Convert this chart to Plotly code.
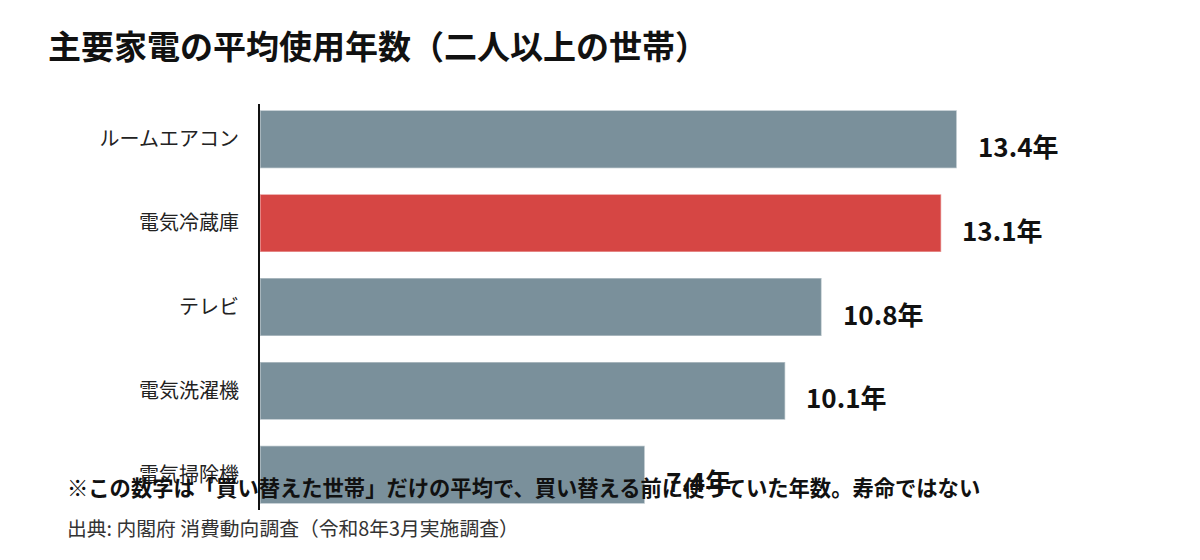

# 主要家電の平均使用年数 — horizontal bar chart
import plotly.graph_objects as go

OUT = "out.html"
FONT = "Noto Sans CJK JP"

# --- data ---
categories = ["ルームエアコン", "電気冷蔵庫", "テレビ", "電気洗濯機", "電気掃除機"]
years = [13.4, 13.1, 10.8, 10.1, 7.4]
value_suffix = "年"
highlight = "電気冷蔵庫"

title_text = "主要家電の平均使用年数（二人以上の世帯）"
note_text = "※この数字は「買い替えた世帯」だけの平均で、買い替える前に使っていた年数。寿命ではない"
source_text = "出典: 内閣府 消費動向調査（令和8年3月実施調査）"

# colours
BAR_GREY = "#7a909b"
BAR_RED = "#d64644"
bar_colors = [BAR_RED if c == highlight else BAR_GREY for c in categories]

fig = go.Figure(
    go.Bar(
        x=years,
        y=categories,
        orientation="h",
        marker=dict(color=bar_colors, line=dict(color="rgba(255,255,255,0.45)", width=1.5)),
        width=0.69,
        hoverinfo="skip",
    )
)

# value labels to the right of each bar (sit a little below bar centre)
for cat, val in zip(categories, years):
    fig.add_annotation(
        x=val, y=cat, xref="x", yref="y",
        text=f"<b>{val:.1f}{value_suffix}</b>",
        showarrow=False, xanchor="left", yanchor="middle",
        xshift=19, yshift=-6,
        font=dict(family=FONT, size=26, color="#111111"),
    )

# footnote + source (below / overlapping the last bar, as in the original)
fig.add_annotation(
    x=-0.2206, y=0.059, xref="paper", yref="paper",
    text=f"<b>{note_text}</b>", showarrow=False,
    xanchor="left", yanchor="middle",
    font=dict(family=FONT, size=21.3, color="#111111"),
)
fig.add_annotation(
    x=-0.2206, y=-0.042, xref="paper", yref="paper",
    text=source_text, showarrow=False,
    xanchor="left", yanchor="middle",
    font=dict(family=FONT, size=19.8, color="#333333"),
)

# page body has an 8px margin, so the margins are pulled in by 8px
fig.update_layout(
    width=1200, height=560,
    margin=dict(l=252, r=64, t=96, b=58),
    paper_bgcolor="white", plot_bgcolor="white",
    showlegend=False,
    title=dict(
        text=f"<b>{title_text}</b>",
        x=0.0333, xanchor="left", xref="container",
        y=0.930, yanchor="middle", yref="container",
        font=dict(family=FONT, size=33, color="#111111"),
    ),
    xaxis=dict(
        range=[0, 17], visible=False, fixedrange=True,
    ),
    yaxis=dict(
        range=[4.42, -0.42],
        showline=True, linecolor="#111111", linewidth=2,
        showgrid=False, zeroline=False,
        ticks="", ticklabelstandoff=15,
        tickfont=dict(family=FONT, size=20, color="#222222"),
        fixedrange=True,
    ),
)

fig.write_html(OUT)
